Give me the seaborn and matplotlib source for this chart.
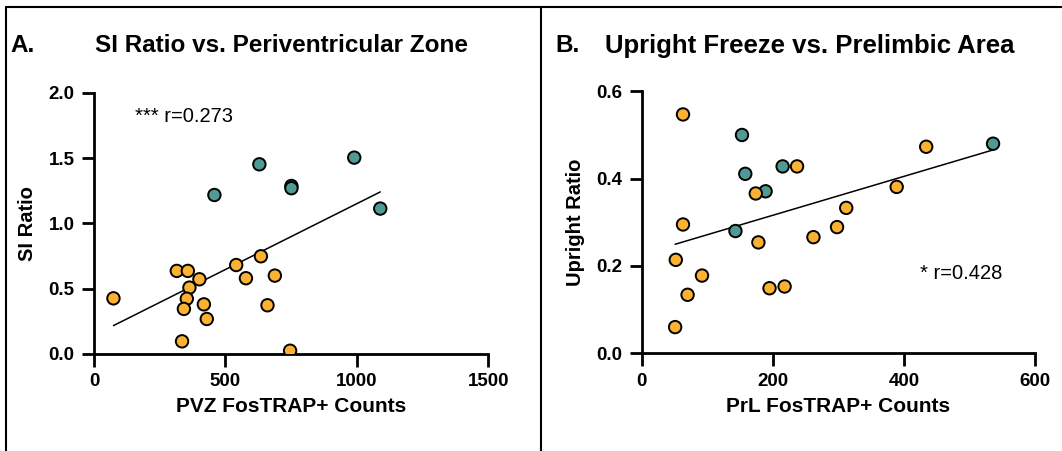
import numpy as np
import pandas as pd
import matplotlib
matplotlib.use("Agg")
import matplotlib.pyplot as plt
from matplotlib.lines import Line2D
import seaborn as sns

# ---- Panel A: SI ratio vs PVZ FosTRAP+ counts ----
pvz_counts_teal = [458, 629, 990, 751, 751, 1089]
si_ratio_teal = [1.217, 1.452, 1.503, 1.286, 1.269, 1.113]
pvz_counts_orange = [74, 315, 357, 401, 363, 353, 342, 418, 429, 335,
                     541, 635, 578, 688, 660, 746]
si_ratio_orange = [0.426, 0.636, 0.636, 0.572, 0.508, 0.423, 0.345, 0.380,
                   0.268, 0.097, 0.681, 0.748, 0.580, 0.600, 0.373, 0.025]

# ---- Panel B: upright ratio vs PrL FosTRAP+ counts ----
prl_counts_teal = [153, 158, 189, 143, 215, 536]
upright_teal = [0.500, 0.411, 0.371, 0.280, 0.428, 0.480]
prl_counts_orange = [63, 63, 52, 92, 70, 51, 174, 178, 195, 218,
                     237, 262, 298, 312, 389, 434]
upright_orange = [0.547, 0.295, 0.214, 0.178, 0.134, 0.060, 0.366, 0.254,
                  0.149, 0.153, 0.428, 0.266, 0.289, 0.333, 0.381, 0.473]

titles = ["SI Ratio vs. Periventricular Zone", "Upright Freeze vs. Prelimbic Area"]
panel_tags = ["A.", "B."]
xlabels = ["PVZ FosTRAP+ Counts", "PrL FosTRAP+ Counts"]
ylabels = ["SI Ratio", "Upright Ratio"]
annotations = ["*** r=0.273", "* r=0.428"]
xticks = [[0, 500, 1000, 1500], [0, 200, 400, 600]]
yticks = [[0.0, 0.5, 1.0, 1.5, 2.0], [0.0, 0.2, 0.4, 0.6]]

ORANGE = "#FBB131"
TEAL = "#4F9A95"

sns.set_style("ticks")
plt.rcParams["font.family"] = ["Liberation Sans", "DejaVu Sans"]
plt.rcParams.update({
    "text.color": "black", "axes.labelcolor": "black",
    "xtick.color": "black", "ytick.color": "black",
    "axes.edgecolor": "black",
})


def make_frame(xt, yt, xo, yo):
    return pd.DataFrame({
        "x": list(xt) + list(xo),
        "y": list(yt) + list(yo),
        "group": ["teal"] * len(xt) + ["orange"] * len(xo),
    })


frames = [
    make_frame(pvz_counts_teal, si_ratio_teal, pvz_counts_orange, si_ratio_orange),
    make_frame(prl_counts_teal, upright_teal, prl_counts_orange, upright_orange),
]

W, H = 1062, 451
fig = plt.figure(figsize=(W / 100, H / 100), dpi=100)

axes_px = [(94, 488.3, 92.7, 354.0), (641.7, 1035.0, 91.3, 353.3)]
annot_pos = [(156, 1.815), (425, 0.183)]
title_px = [(10, 95), (555, 605)]
title_size = [17.5, 18.5]

for i, df in enumerate(frames):
    l, r, t, b = axes_px[i]
    ax = fig.add_axes([l / W, 1 - b / H, (r - l) / W, (b - t) / H])
    sns.regplot(data=df, x="x", y="y", scatter=False, ci=None, ax=ax,
                line_kws=dict(color="black", lw=1.1), truncate=True)
    sns.scatterplot(data=df, x="x", y="y", hue="group",
                    palette={"teal": TEAL, "orange": ORANGE},
                    s=80, edgecolor="black", linewidth=1.4, legend=False,
                    ax=ax, zorder=3)
    ax.set_xlim(xticks[i][0], xticks[i][-1])
    ax.set_ylim(yticks[i][0], yticks[i][-1])
    ax.set_xticks(xticks[i])
    ax.set_yticks(yticks[i])
    ax.set_yticklabels([f"{v:.1f}" for v in yticks[i]])
    for s in ("top", "right"):
        ax.spines[s].set_visible(False)
    for s in ("left", "bottom"):
        ax.spines[s].set_linewidth(2)
    ax.tick_params(width=2, length=9, labelsize=13.5, pad=5)
    for lab in ax.get_xticklabels() + ax.get_yticklabels():
        lab.set_fontweight("bold")
    ax.set_xlabel(xlabels[i], fontsize=15, fontweight="bold", labelpad=5)
    ax.set_ylabel(ylabels[i], fontsize=14.5, fontweight="bold", labelpad=8)
    ax.text(annot_pos[i][0], annot_pos[i][1], annotations[i], fontsize=14.5,
            ha="left", va="center")
    ax.patch.set_alpha(0)
    for sp in ax.spines.values():
        sp.set_clip_on(False)

    tx_tag, tx_title = title_px[i]
    fig.text(tx_tag / W, 1 - 46 / H, panel_tags[i], fontsize=17.5,
             fontweight="bold", ha="left", va="center")
    fig.text(tx_title / W, 1 - 46 / H, titles[i], fontsize=title_size[i],
             fontweight="bold", ha="left", va="center")

# panel frame lines
frame_kw = dict(color="black", lw=1.5, transform=fig.transFigure)
fig.add_artist(Line2D([6 / W, 1], [1 - 7.3 / H, 1 - 7.3 / H], **frame_kw))
fig.add_artist(Line2D([6 / W, 6 / W], [0, 1 - 7.3 / H], **frame_kw))
fig.add_artist(Line2D([541 / W, 541 / W], [0, 1 - 7.3 / H], **frame_kw))

fig.savefig("out.png", dpi=100)
